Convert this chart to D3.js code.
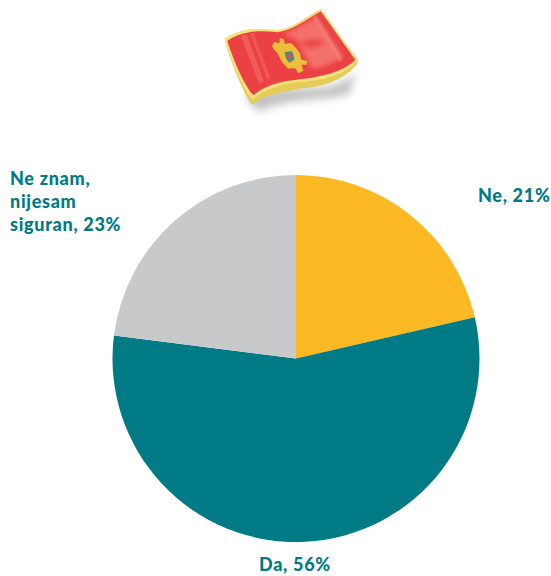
<!DOCTYPE html>
<html><head><meta charset="utf-8">
<script src="https://cdn.jsdelivr.net/npm/d3@7"></script>
<style>html,body{margin:0;padding:0;background:#fff}svg{display:block}</style>
</head><body><div id="c"></div>
<script>
const categories = ["Ne", "Da", "Ne znam, nijesam siguran"];
const shares = [21.4, 55.6, 23];
const colours = ["#fdb924", "#007a84", "#c8c9cb"];
const labelLines = [["Ne, 21%"], ["Da, 56%"], ["Ne znam,", "nijesam", "siguran, 23%"]];
const labelAnchors = [[478, 202], [259, 571], [10, 185]];

const svg = d3.select("#c").append("svg").attr("width", 551).attr("height", 576);
const defs = svg.append("defs");
const blur = defs.append("filter").attr("id", "b").attr("x", "-30%").attr("y", "-50%").attr("width", "160%").attr("height", "200%");
blur.append("feGaussianBlur").attr("stdDeviation", 12);
const blur2 = defs.append("filter").attr("id", "b2").attr("x", "-30%").attr("y", "-30%").attr("width", "160%").attr("height", "160%");
blur2.append("feGaussianBlur").attr("stdDeviation", 6);
const blur3 = defs.append("filter").attr("id", "b3").attr("x", "-30%").attr("y", "-30%").attr("width", "160%").attr("height", "160%");
blur3.append("feGaussianBlur").attr("stdDeviation", 1.5);

// flag
const flag = svg.append("g").attr("transform", "translate(200,0) scale(0.3333)");
flag.append("path").attr("filter", "url(#b)").attr("fill", "#8c8c8c").attr("opacity", .55)
  .attr("d", "M135,285 C190,270 290,265 380,262 C420,250 450,235 470,215 L445,285 C360,300 260,295 175,335 Z");
flag.append("path").attr("fill", "#e6cb58")
  .attr("d", "M74,118 C80,150 125,275 156,314 C185,290 235,275 300,266 C370,260 435,240 474,188 L472,178 L362,27 C320,50 275,88 232,91 C180,84 125,82 74,118 Z");
flag.append("path").attr("fill", "#f5e27a")
  .attr("d", "M74,116 C125,82 180,84 232,91 C275,88 320,50 364,26 L472,182 C435,225 370,240 300,246 C235,252 190,270 158,300 C125,260 85,160 74,116 Z");
flag.append("path").attr("fill", "#ec4144")
  .attr("d", "M82,122 C125,92 180,90 232,97 C275,93 320,58 362,34 L466,180 C430,214 370,230 300,238 C235,244 190,260 160,286 C125,244 95,165 82,122 Z");
// gloss
flag.append("path").attr("filter", "url(#b2)").attr("fill", "#f67c74").attr("opacity", .8)
  .attr("d", "M250,102 C290,88 325,62 350,50 L430,170 C400,190 360,205 335,205 L290,120 Z");
[["M122,108 L140,103 L192,245 L178,252 Z", .3], ["M150,100 L160,98 L212,235 L202,240 Z", .25], ["M338,50 L348,45 L428,178 L418,186 Z", .3]]
  .forEach(([d, o]) => flag.append("path").attr("fill", "#f89a92").attr("opacity", o).attr("filter", "url(#b3)").attr("d", d));
flag.append("path").attr("fill", "#e53438").attr("opacity", .6).attr("filter", "url(#b2)")
  .attr("d", "M300,130 C330,110 360,115 375,125 C350,150 320,150 300,130 Z");
// emblem
const emblem = flag.append("g").attr("filter", "url(#b3)");
emblem.append("path").attr("fill", "#eebd3a")
  .attr("d", "M240,113 L252,118 L254,132 L272,128 L285,140 L300,160 L303,178 L322,184 L320,194 L305,194 L310,212 L296,220 L284,204 L264,206 L246,186 L232,160 L216,140 L222,126 L238,130 Z");
emblem.append("path").attr("fill", "#3f8f86").attr("d", "M254,156 L276,154 L284,178 L268,188 L258,176 Z");
emblem.append("path").attr("fill", "#d8505a").attr("d", "M262,163 L272,162 L275,174 L266,178 Z");

// pie
const cx = 296, cy = 358.5, radius = 183.5;
const pie = d3.pie().sort(null).value(d => d);
const arc = d3.arc().innerRadius(0).outerRadius(radius);
svg.append("g").attr("transform", `translate(${cx},${cy})`)
  .selectAll("path").data(pie(shares)).join("path")
  .attr("d", arc).attr("fill", (d, i) => colours[i]);

// labels
const text = svg.append("g").attr("font-family", "Lato, 'Open Sans', sans-serif")
  .attr("font-weight", 900).attr("font-size", 18).attr("letter-spacing", 0.7).attr("fill", "#007a84");
labelLines.forEach((lines, i) => {
  lines.forEach((l, j) => text.append("text")
    .attr("x", labelAnchors[i][0]).attr("y", labelAnchors[i][1] + j * 23).text(l));
});
</script></body></html>
